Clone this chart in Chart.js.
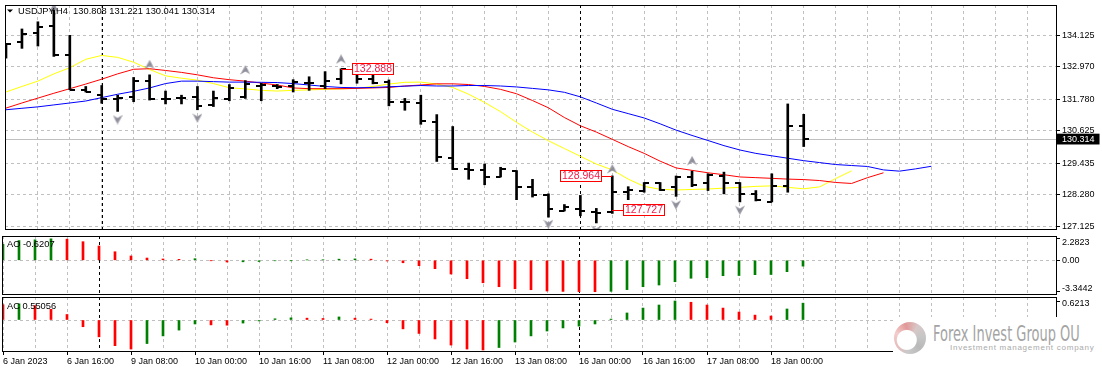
<!DOCTYPE html>
<html>
<head>
<meta charset="utf-8">
<script src="https://cdn.jsdelivr.net/npm/chart.js@4.4.0/dist/chart.umd.min.js"></script>
<style>
html,body{margin:0;padding:0;background:#fff;}
#wrap{position:relative;width:1102px;height:373px;overflow:hidden;background:#fff;}
canvas{position:absolute;left:0;}
#logoBox{position:absolute;left:893px;top:317px;width:209px;height:56px;background:#fff;}
#ring{position:absolute;left:894px;top:322px;width:32px;height:32px;border-radius:50%;
 background:radial-gradient(circle at 40% 56%, #fff 0, #fff 36%, rgba(255,255,255,0) 40%),
 conic-gradient(from 290deg, #f3cccc, #e29898, #d8c8c8, #c6c6c6, #b9b9b9, #c9c9c9, #e8bcbc, #f3cccc);}
#lt1{position:absolute;left:933px;top:324px;font-family:"DejaVu Sans",sans-serif;font-size:20.5px;line-height:20.5px;color:#a4a4a4;white-space:nowrap;transform:scaleX(0.634);transform-origin:0 0;}
#lt2{position:absolute;left:950px;top:344px;font-family:"Liberation Sans",Arial,sans-serif;font-size:8px;line-height:8px;letter-spacing:0.75px;color:#aaaaaa;white-space:nowrap;}
</style>
</head>
<body>
<div id="wrap">
<canvas id="cMain" width="1102" height="235" style="top:0px"></canvas>
<canvas id="cAO" width="1102" height="61" style="top:235px"></canvas>
<canvas id="cAC" width="1102" height="77" style="top:296px"></canvas>
<div id="logoBox"></div>
<div id="ring"></div>
<div id="lt1">Forex Invest Group OU</div>
<div id="lt2">Investment management company</div>
</div>
<script>
// ---------------- DATA ----------------
const symbol = 'USDJPY,H4';
const timeLabels = ['6 Jan 2023','6 Jan 16:00','9 Jan 08:00','10 Jan 00:00','10 Jan 16:00','11 Jan 08:00',
  '12 Jan 00:00','12 Jan 16:00','13 Jan 08:00','16 Jan 00:00','16 Jan 16:00','17 Jan 08:00','18 Jan 00:00'];
const barsPerLabel = 4;
const weekStarts = [6, 36];
const priceTicks = [134.125, 132.970, 131.780, 130.625, 129.435, 128.280, 127.125];
const aoTicks = [2.2823, 0, -3.3442];
const acTicks = [0.6213, 0];

const open = [133.45,133.876,134.207,134.445,133.404,132.124,131.922,131.779,131.861,132.455,
  131.77,131.826,131.861,131.566,131.779,131.840,132.277,132.241,132.241,132.359,
  132.241,132.515,132.750,132.515,132.394,131.662,131.627,130.937,129.612,129.221,
  129.196,128.936,129.160,128.570,128.250,127.69,127.738,127.657,127.66,128.367,
  128.428,128.698,128.545,128.926,128.687,128.961,128.687,128.286,128.02,128.606,130.808];
const high = [133.82,134.349,134.612,135.120,134.114,132.241,132.277,131.922,132.572,132.668,
  132.074,131.922,132.241,132.074,132.312,132.455,132.359,132.312,132.490,132.597,
  132.785,132.888,132.785,132.714,132.480,131.804,131.922,131.211,130.774,129.434,
  129.399,129.281,129.160,128.840,128.307,127.916,128.250,127.774,128.964,128.570,
  128.723,128.723,128.961,129.139,129.043,129.103,128.723,128.428,129.043,131.602,131.221];
const low = [133.28,133.638,133.723,133.343,132.124,132.039,131.627,131.328,131.683,131.744,
  131.602,131.602,131.388,131.506,131.719,131.804,131.719,132.160,132.039,132.099,
  132.160,132.337,132.359,132.337,131.531,131.370,130.855,129.494,129.196,128.840,
  128.641,128.926,128.094,128.190,127.454,127.68,127.504,127.241,127.59,128.094,
  128.367,128.428,128.215,128.570,128.428,128.307,128.012,128.048,128.012,128.367,130.041];
const close = [133.79,134.150,134.409,133.404,132.124,132.039,131.779,131.826,132.455,131.779,
  131.78,131.83,131.531,131.815,132.195,132.337,132.28,132.24,132.394,132.36,
  132.455,132.870,132.515,132.359,131.683,131.66,130.973,129.647,129.232,129.17,
  128.936,129.232,128.570,128.250,127.738,127.81,127.692,127.621,128.367,128.449,
  128.698,128.449,128.926,128.641,128.997,128.723,128.286,128.073,128.606,130.795,130.314];

// Alligator lines (jaw shifted 8 bars, teeth 5, lips 3)
const jaw = [131.389,131.442,131.495,131.566,131.637,131.709,131.833,131.957,132.064,132.188,
  132.348,132.437,132.437,132.419,132.401,132.401,132.394,132.384,132.348,132.295,
  132.242,132.206,132.195,132.206,132.231,132.252,132.277,132.259,132.259,132.277,
  132.277,132.259,132.224,132.171,132.117,132.028,131.861,131.637,131.406,131.247,
  131.087,130.873,130.642,130.447,130.262,130.074,129.914,129.790,129.701,129.612,
  129.523,129.452,129.381,129.345,129.310,129.185,129.139,129.221,129.317];
const teeth = [131.449,131.637,131.815,131.993,132.160,132.330,132.508,132.704,132.871,132.892,
  132.828,132.757,132.668,132.561,132.490,132.437,132.366,132.295,132.188,132.160,
  132.160,132.160,132.171,132.188,132.206,132.259,132.295,132.338,132.338,132.313,
  132.242,132.135,131.975,131.726,131.460,131.104,130.802,130.571,130.305,130.038,
  129.790,129.505,129.257,129.168,129.079,129.008,128.926,128.901,128.876,128.848,
  128.830,128.795,128.724,128.688,128.901,129.079];
const lips = [132.039,132.242,132.437,132.704,132.927,133.237,133.379,133.308,133.130,132.863,
  132.632,132.544,132.473,132.348,132.195,132.153,132.099,132.075,132.099,132.117,
  132.135,132.153,132.171,132.242,132.330,132.394,132.401,132.330,132.206,131.957,
  131.655,131.318,130.927,130.571,130.252,129.967,129.683,129.399,129.185,128.848,
  128.581,128.475,128.450,128.468,128.485,128.517,128.546,128.581,128.599,128.546,
  128.492,128.564,128.866,129.150];

// Fractal arrows
const fractalUpBars = [3, 9, 15, 21, 38, 43];
const fractalUpAt = [135.12, 133.04, 132.846, 133.237, 129.22, 129.52];
const fractalDownBars = [7, 12, 34, 37, 42, 46];
const fractalDownAt = [131.03, 131.09, 127.20, 126.98, 127.906, 127.71];

// Price level labels
const levelBars = [21, 38, 38];
const levelPrices = [132.888, 128.964, 127.727];

// Awesome Oscillator / Accelerator Oscillator
const aoBefore = 1.5;
const ao = [1.70,2.10,2.18,2.2823,2.25,1.98,1.52,0.91,0.46,0.24,
  0.14,0.10,0.17,-0.03,-0.18,-0.16,-0.13,-0.05,-0.03,0.04,
  0.06,0.12,0.15,0.12,-0.07,-0.26,-0.57,-0.89,-1.46,-1.96,
  -2.39,-2.81,-3.03,-3.13,-3.27,-3.31,-3.33,-3.3442,-3.30,-3.12,
  -2.81,-2.63,-2.28,-1.91,-1.85,-1.64,-1.62,-1.53,-1.51,-1.21,-0.6207];
const acBefore = 0.70;
const ac = [0.50,0.53,0.47,0.35,0.18,-0.22,-0.55,-0.84,-0.95,-0.77,
  -0.52,-0.33,-0.13,-0.16,-0.17,-0.10,-0.03,0.04,0.07,0.06,
  0.05,0.10,0.06,0.03,-0.09,-0.29,-0.44,-0.62,-0.82,-0.95,
  -0.98,-0.90,-0.72,-0.52,-0.36,-0.26,-0.20,-0.13,0.03,0.23,
  0.39,0.49,0.6213,0.58,0.49,0.39,0.26,0.16,0.13,0.36,0.55056];

// ---------------- STYLE / SETUP ----------------
const FONT = '"Liberation Sans", Arial, sans-serif';
const GRID = '#c0c0c0';
const CLEAR = 'rgba(0,0,0,0)';
const UP = '#008000', DOWN = '#ff0000';
const xMin = -0.0625, xMax = 65.875;
const last = close.length - 1;
const lastClose = close[last];

Chart.defaults.font.family = FONT;
Chart.defaults.font.size = 9;
Chart.defaults.color = '#000';

function tickImg(side) {
  const c = document.createElement('canvas'); c.width = 10; c.height = 2;
  const g = c.getContext('2d'); g.fillStyle = '#000';
  g.fillRect(side === 'left' ? 0 : 5, 0, 5, 2);
  return c;
}
function arrowImg() {
  const c = document.createElement('canvas'); c.width = 10; c.height = 10;
  const g = c.getContext('2d');
  const gr = g.createLinearGradient(0, 0, 10, 10);
  gr.addColorStop(0, '#c8c8d4'); gr.addColorStop(0.5, '#8c8c98'); gr.addColorStop(1, '#b4b4be');
  g.fillStyle = gr;
  g.beginPath(); g.moveTo(5, 0); g.lineTo(10, 9.5); g.lineTo(5, 6.5); g.lineTo(0, 9.5); g.closePath(); g.fill();
  return c;
}
const openTick = tickImg('left'), closeTick = tickImg('right'), arrow = arrowImg();

function labelFor(v) {
  if (v % barsPerLabel !== 0) return '';
  const k = v / barsPerLabel;
  return k < timeLabels.length ? timeLabels[k] : '';
}

function xAxis(showLabels) {
  return {
    type: 'linear', min: xMin, max: xMax, offset: false,
    afterBuildTicks: s => { const t = []; for (let v = 0; v <= xMax; v += 2) t.push({value: v}); s.ticks = t; },
    afterFit: s => { s.height = showLabels ? 21 : 0; s.paddingLeft = 0; s.paddingRight = 0; },
    border: {display: false, dash: [3, 3]},
    grid: {color: GRID, lineWidth: 1, offset: false, drawTicks: showLabels, tickLength: 3, tickWidth: 1,
      tickColor: c => (c.tick && labelFor(c.tick.value)) ? '#000' : CLEAR},
    ticks: {display: showLabels, autoSkip: false, maxRotation: 0, minRotation: 0, align: 'start', padding: 1,
      color: '#000', font: {family: FONT, size: 9}, callback: v => labelFor(v)}
  };
}

function subY(min, max, ticks) {
  return {
    type: 'linear', position: 'right', min, max,
    afterBuildTicks: s => { s.ticks = ticks.map(v => ({value: v})); },
    afterFit: s => { s.width = 45; s.paddingTop = 0; s.paddingBottom = 0; },
    border: {display: false, dash: [3, 3]},
    grid: {color: c => (c.tick && c.tick.value === 0) ? GRID : CLEAR, tickLength: 3, tickColor: '#000', drawTicks: true},
    ticks: {display: false}
  };
}

function decor(extra) {
  return {
    id: 'decor',
    beforeDatasetsDraw(chart) {
      const {ctx, chartArea: a, scales: {x, y}} = chart;
      ctx.save();
      ctx.beginPath(); ctx.rect(a.left, a.top, a.right - a.left, a.bottom - a.top); ctx.clip();
      ctx.lineWidth = 1;
      if (extra.priceLine !== undefined) {
        const py = Math.round(y.getPixelForValue(extra.priceLine)) + 0.5;
        ctx.strokeStyle = GRID; ctx.setLineDash([]);
        ctx.beginPath(); ctx.moveTo(a.left, py); ctx.lineTo(a.right, py); ctx.stroke();
      }
      ctx.strokeStyle = '#000'; ctx.setLineDash([3, 3]);
      weekStarts.forEach(b => {
        const px = Math.round(x.getPixelForValue(b)) + 0.5;
        ctx.beginPath(); ctx.moveTo(px, a.top); ctx.lineTo(px, a.bottom); ctx.stroke();
      });
      ctx.restore();
    },
    afterDraw(chart) {
      const {ctx, chartArea: a} = chart;
      ctx.save();
      if (extra.after) extra.after(chart);
      ctx.strokeStyle = '#000'; ctx.lineWidth = 1; ctx.setLineDash([]);
      ctx.strokeRect(a.left + 0.5, a.top + 0.5, a.right - a.left - 1, a.bottom - a.top - 1);
      ctx.restore();
    }
  };
}

const baseOpts = {
  responsive: false, maintainAspectRatio: false, animation: false, devicePixelRatio: 1,
  events: [],
  plugins: {legend: {display: false}, tooltip: {enabled: false}}
};

// ---------------- MAIN PRICE CHART ----------------
const idx = open.map((_, i) => i);
const levelSide = ['right', 'left', 'right'];

new Chart(document.getElementById('cMain'), {
  type: 'line',
  data: {datasets: [
    {data: jaw.map((v, i) => ({x: i, y: v})), borderColor: '#0000ff', borderWidth: 1, pointRadius: 0, order: 5},
    {data: teeth.map((v, i) => ({x: i, y: v})), borderColor: '#ff0000', borderWidth: 1, pointRadius: 0, order: 5},
    {data: lips.map((v, i) => ({x: i, y: v})), borderColor: '#ffff00', borderWidth: 1, pointRadius: 0, order: 5},
    {type: 'bar', data: idx.map(i => ({x: i, y: [low[i], high[i]]})), backgroundColor: '#000', borderWidth: 0,
      barThickness: 2, grouped: false, order: 2},
    {data: idx.map(i => ({x: i, y: open[i]})), showLine: false, pointStyle: openTick, pointRadius: 3, order: 1},
    {data: idx.map(i => ({x: i, y: close[i]})), showLine: false, pointStyle: closeTick, pointRadius: 3, order: 1},
    {data: fractalUpBars.map((b, i) => ({x: b, y: fractalUpAt[i]})), showLine: false, pointStyle: arrow, pointRadius: 4, order: 0},
    {data: fractalDownBars.map((b, i) => ({x: b, y: fractalDownAt[i]})), showLine: false, pointStyle: arrow, pointRadius: 4, pointRotation: 180, order: 0}
  ]},
  options: Object.assign({}, baseOpts, {
    layout: {padding: {left: 2, top: 2, right: 0, bottom: 1}},
    scales: {
      x: xAxis(false),
      y: {
        type: 'linear', position: 'right', min: 126.9829, max: 135.2265,
        afterBuildTicks: s => { s.ticks = priceTicks.map(v => ({value: v})).concat([{value: lastClose}]); },
        afterFit: s => { s.width = 45; s.paddingTop = 0; s.paddingBottom = 0; },
        border: {display: false, dash: [3, 3]},
        grid: {color: c => (c.tick && c.tick.value === lastClose) ? CLEAR : GRID, tickLength: 3, tickColor: '#000', drawTicks: true},
        ticks: {autoSkip: false, padding: 2, font: {family: FONT, size: 9},
          color: c => (c.tick && c.tick.value === lastClose) ? '#fff' : '#000',
          showLabelBackdrop: c => !!(c.tick && c.tick.value === lastClose),
          backdropColor: '#000', backdropPadding: {left: 5, right: 5, top: 0, bottom: 0},
          callback: v => v.toFixed(3)}
      }
    }
  }),
  plugins: [decor({priceLine: lastClose, after(chart) {
    const {ctx, scales: {x, y}} = chart;
    // level labels
    ctx.lineWidth = 1; ctx.setLineDash([]);
    levelBars.forEach((b, i) => {
      const px = Math.round(x.getPixelForValue(b));
      const py = Math.round(y.getPixelForValue(levelPrices[i]));
      const bw = 42, bh = 12;
      const bx = levelSide[i] === 'right' ? px + 11 : px - 10 - bw;
      ctx.strokeStyle = '#ff0000';
      ctx.beginPath(); ctx.moveTo(px, py + 0.5); ctx.lineTo(levelSide[i] === 'right' ? bx : bx + bw, py + 0.5); ctx.stroke();
      ctx.fillStyle = '#fff'; ctx.fillRect(bx, py - 6, bw, bh);
      ctx.strokeRect(bx + 0.5, py - 5.5, bw - 1, bh - 1);
      ctx.fillStyle = '#f01a4a'; ctx.font = '10.5px ' + FONT; ctx.textAlign = 'center'; ctx.textBaseline = 'middle';
      ctx.fillText(levelPrices[i].toFixed(3), bx + bw / 2, py + 0.5);
    });
    // header
    ctx.fillStyle = '#000';
    ctx.beginPath(); ctx.moveTo(7, 9.5); ctx.lineTo(13, 9.5); ctx.lineTo(10, 12.5); ctx.closePath(); ctx.fill();
    ctx.font = '9.3px ' + FONT; ctx.textAlign = 'left'; ctx.textBaseline = 'alphabetic';
    ctx.fillText(symbol + '  ' + [open[last], high[last], low[last], close[last]].map(v => v.toFixed(3)).join(' '), 18, 14);
  }})]
});

// ---------------- HISTOGRAM PANELS ----------------
function histColors(vals, before) {
  return vals.map((v, i) => v >= (i === 0 ? before : vals[i - 1]) ? UP : DOWN);
}
function rightLabels(chart, ticks, offsets) {
  const {ctx, chartArea: a, scales: {y}} = chart;
  ctx.fillStyle = '#000'; ctx.font = '9px ' + FONT; ctx.textAlign = 'left'; ctx.textBaseline = 'middle';
  ticks.forEach((v, i) => {
    ctx.fillText(v === 0 ? '0.00' : String(v), a.right + 5, y.getPixelForValue(v) + offsets[i]);
  });
}

new Chart(document.getElementById('cAO'), {
  type: 'line',
  data: {datasets: [
    {type: 'bar', data: [{x: -1, y: aoBefore}].concat(ao.map((v, i) => ({x: i, y: v}))),
      backgroundColor: [UP].concat(histColors(ao, aoBefore)), borderWidth: 0, barThickness: 2, grouped: false}
  ]},
  options: Object.assign({}, baseOpts, {
    layout: {padding: {left: 2, top: 1, right: 0, bottom: 1}},
    scales: {x: xAxis(false), y: subY(-3.6915, 2.5851, aoTicks)}
  }),
  plugins: [decor({after(chart) {
    const {ctx} = chart;
    ctx.fillStyle = '#000'; ctx.font = '9.3px ' + FONT; ctx.textAlign = 'left'; ctx.textBaseline = 'alphabetic';
    ctx.fillText('AO ' + String(ao[last]), 7, 12.3);
    rightLabels(chart, aoTicks, [4, 0.4, -3.4]);
  }})]
});

new Chart(document.getElementById('cAC'), {
  type: 'line',
  data: {datasets: [
    {type: 'bar', data: [{x: -1, y: acBefore}].concat(ac.map((v, i) => ({x: i, y: v}))),
      backgroundColor: [UP].concat(histColors(ac, acBefore)), borderWidth: 0, barThickness: 2, grouped: false}
  ]},
  options: Object.assign({}, baseOpts, {
    layout: {padding: {left: 2, top: 1, right: 0, bottom: 0}},
    scales: {x: xAxis(true), y: subY(-1.0464, 0.7521, acTicks)}
  }),
  plugins: [decor({after(chart) {
    const {ctx} = chart;
    ctx.fillStyle = '#000'; ctx.font = '9.3px ' + FONT; ctx.textAlign = 'left'; ctx.textBaseline = 'alphabetic';
    ctx.fillText('AC ' + String(ac[last]), 7, 13.4);
    rightLabels(chart, acTicks, [3, 0.4]);
  }})]
});
</script>
</body>
</html>
